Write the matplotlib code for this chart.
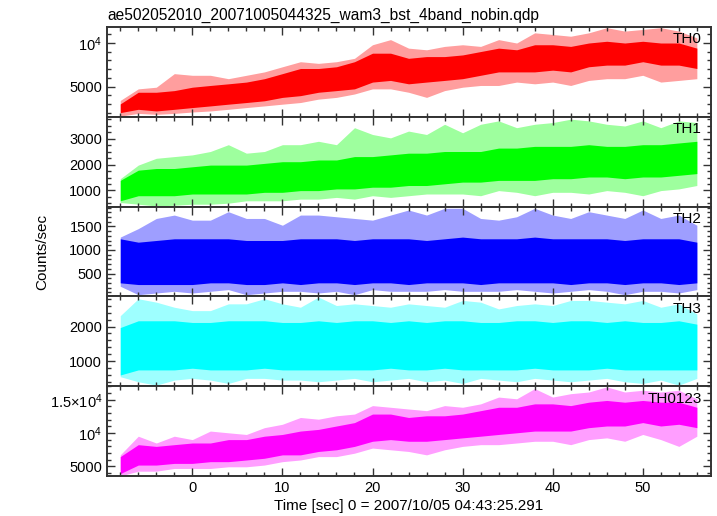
import numpy as np
import matplotlib
matplotlib.use('Agg')
import matplotlib.pyplot as plt
from matplotlib.ticker import MultipleLocator, FuncFormatter

plt.rcParams['font.family'] = ['Liberation Sans', 'DejaVu Sans']
plt.rcParams['mathtext.fontset'] = 'custom'
plt.rcParams['mathtext.rm'] = 'Liberation Sans'
plt.rcParams['mathtext.it'] = 'Liberation Sans'

# time of each reading (sec)
t = [-8, -6, -4, -2, 0, 2, 4, 6, 8, 10, 12, 14, 16, 18, 20, 22, 24, 26, 28, 30,
     32, 34, 36, 38, 40, 42, 44, 46, 48, 50, 52, 54, 56]

# TH0: spike top, dense band top, dense band bottom, spike bottom
th0_hi = [3400, 4730, 4920, 6480, 6290, 6290, 5900, 6290, 6680, 7270, 7850, 7660, 7850, 8240, 9800, 10390, 9410,
          9220, 9610, 9800, 9610, 10390, 10000, 11170, 10980, 10780, 11170, 11760, 11370, 11560, 11760, 11370, 10590]
th0_chi = [3000, 4340, 4340, 4530, 4920, 5120, 5310, 5510, 5900, 6480, 7070, 7070, 7270, 7850, 8830, 8830, 8240,
           8440, 8440, 8630, 9020, 9410, 9220, 9800, 9800, 9610, 10000, 10200, 10000, 10200, 10000, 10000, 9410]
th0_clo = [2000, 2380, 2190, 2380, 2580, 2770, 2970, 3160, 3360, 3750, 3950, 4340, 4530, 4730, 5510, 5700, 5310,
           5510, 5700, 5900, 6290, 6680, 6680, 6680, 6880, 6680, 7270, 7460, 7460, 7850, 7460, 7460, 7070]
th0_lo = [1600, 1910, 1800, 1910, 2070, 2190, 2380, 2580, 2770, 2970, 3160, 3550, 3750, 4140, 4730, 4730, 4340,
          3750, 4530, 4920, 5120, 5120, 5510, 5310, 5510, 5120, 5700, 5900, 5900, 6290, 5510, 5700, 5900]

th1_hi = [1454, 1978, 2240, 2306, 2371, 2502, 2764, 2437, 2502, 2764, 2764, 2895, 2764, 3419, 3157, 3026, 3288,
          3157, 3550, 3223, 3550, 3681, 3419, 3550, 3616, 3747, 3681, 3550, 3485, 3681, 3419, 3681, 3616]
th1_chi = [1389, 1782, 1847, 1847, 1913, 1978, 1978, 1978, 2044, 2109, 2109, 2175, 2175, 2306, 2306, 2371, 2437,
           2437, 2502, 2502, 2502, 2633, 2633, 2699, 2699, 2699, 2764, 2699, 2699, 2764, 2764, 2830, 2895]
th1_clo = [603, 799, 799, 799, 865, 865, 865, 865, 930, 930, 996, 996, 1061, 1061, 1127, 1127, 1192,
           1192, 1258, 1323, 1323, 1389, 1389, 1389, 1454, 1454, 1520, 1520, 1454, 1520, 1520, 1585, 1651]
th1_lo = [537, 472, 406, 432, 472, 472, 511, 603, 603, 603, 668, 668, 734, 668, 799, 734, 799,
          865, 865, 865, 799, 996, 930, 799, 930, 930, 865, 996, 930, 799, 996, 1061, 1192]

th2_hi = [1274, 1454, 1670, 1742, 1634, 1634, 1814, 1670, 1670, 1526, 1742, 1742, 1706, 1670, 1634, 1742, 1850,
          1742, 1886, 1886, 1670, 1634, 1706, 1886, 1742, 1670, 1814, 1742, 1670, 1850, 1670, 1742, 1526]
th2_chi = [1238, 1166, 1202, 1238, 1238, 1238, 1238, 1202, 1202, 1202, 1238, 1238, 1238, 1202, 1238, 1238, 1238,
           1202, 1238, 1274, 1238, 1238, 1238, 1274, 1238, 1238, 1238, 1238, 1202, 1238, 1238, 1238, 1166]
th2_clo = [302, 266, 266, 266, 266, 302, 302, 266, 266, 302, 266, 302, 302, 266, 302, 302, 266,
           302, 302, 302, 266, 302, 302, 302, 302, 266, 302, 302, 266, 302, 302, 266, 302]
th2_lo = [230, 50, 86, 122, 86, 122, 158, 50, 86, 122, 122, 86, 122, 50, 158, 122, 122,
          122, 158, 122, 122, 122, 158, 122, 86, 122, 158, 122, 50, 122, 122, 86, 158]

th3_hi = [2314, 2804, 2706, 2559, 2461, 2461, 2657, 2657, 2804, 2657, 2559, 2853, 2608, 2657, 2608, 2559, 2657,
          2608, 2559, 2755, 2706, 2510, 2608, 2657, 2608, 2755, 2755, 2706, 2657, 2755, 2559, 2657, 2363]
th3_chi = [1971, 2167, 2167, 2167, 2118, 2118, 2167, 2167, 2167, 2118, 2118, 2167, 2118, 2167, 2167, 2118, 2167,
           2118, 2167, 2167, 2118, 2118, 2167, 2167, 2118, 2167, 2167, 2118, 2167, 2118, 2118, 2167, 2069]
th3_clo = [599, 746, 746, 746, 795, 746, 746, 746, 795, 746, 746, 746, 746, 746, 746, 795, 746,
           746, 795, 746, 746, 746, 746, 795, 746, 746, 746, 795, 746, 746, 746, 746, 746]
th3_lo = [550, 403, 305, 452, 501, 452, 354, 501, 501, 452, 452, 403, 452, 501, 403, 452, 501,
          403, 452, 354, 501, 452, 403, 501, 452, 403, 452, 501, 403, 354, 452, 305, 501]

th0123_hi = [6740, 9540, 8520, 9540, 9030, 10310, 10050, 9800, 10820, 11330, 12350, 12090, 12600, 12860, 14130,
             13880, 13620, 13370, 14130, 13880, 14390, 15410, 15150, 16680, 15410, 15920, 16170, 16940, 16170,
             16430, 16170, 16430, 15150]
th0123_chi = [6480, 8270, 8010, 8270, 8520, 8520, 9030, 9030, 9540, 9800, 10310, 10560, 11070, 11580, 12860,
              12860, 12350, 12600, 12600, 12860, 13370, 13880, 13880, 14390, 14390, 14130, 14640, 14900, 14640,
              14900, 14640, 14640, 13880]
th0123_clo = [3930, 5210, 5210, 5460, 5460, 5720, 5720, 5970, 6230, 6740, 6740, 7250, 7500, 8010, 8780,
              9030, 8780, 8780, 9030, 9290, 9540, 9800, 10050, 10310, 10310, 10310, 10820, 11070, 11070,
              11580, 11070, 11330, 10820]
th0123_lo = [3570, 4290, 4290, 4700, 4700, 4700, 4950, 4950, 5210, 5720, 5970, 6480, 6480, 6990, 7760,
             7500, 7250, 6740, 7500, 8010, 8270, 8270, 8520, 8780, 8780, 8270, 9030, 9290, 8780, 9800, 9030,
             8010, 9540]

names = ['TH0', 'TH1', 'TH2', 'TH3', 'TH0123']
colors = ['#ff0000', '#00ff00', '#0000ff', '#00ffff', '#ff00ff']
bands = [(th0_hi, th0_chi, th0_clo, th0_lo),
         (th1_hi, th1_chi, th1_clo, th1_lo),
         (th2_hi, th2_chi, th2_clo, th2_lo),
         (th3_hi, th3_chi, th3_clo, th3_lo),
         (th0123_hi, th0123_chi, th0123_clo, th0123_lo)]
ylims = [(1520, 11840), (380, 3838), (14, 1922), (275, 2872), (3570, 17040)]
majors = [5000, 1000, 500, 1000, 5000]
minors = [1000, 250, 100, 200, 1000]


def qdp_fmt(v, pos):
    if abs(v - 10000) < 1:
        return r'$10^4$'
    if abs(v - 15000) < 1:
        return r'$1.5{\times}10^4$'
    return '%d' % v


fig = plt.figure(figsize=(7.17, 5.16), dpi=100)
gs = fig.add_gridspec(5, 1, left=107/717, right=711/717, top=1-27/516, bottom=1-476/516, hspace=0)
frame = '#333333'

axes = []
for i in range(5):
    ax = fig.add_subplot(gs[i, 0])
    hi, chi, clo, lo = bands[i]
    # sparse spikes drawn lighter, dense band solid
    ax.fill_between(t, lo, hi, color=colors[i], alpha=0.38, linewidth=0)
    ax.fill_between(t, clo, chi, color=colors[i], linewidth=0)
    ax.set_xlim(-9.47, 57.57)
    ax.set_ylim(*ylims[i])
    ax.xaxis.set_major_locator(MultipleLocator(10))
    ax.xaxis.set_minor_locator(MultipleLocator(2))
    ax.yaxis.set_major_locator(MultipleLocator(majors[i]))
    ax.yaxis.set_minor_locator(MultipleLocator(minors[i]))
    ax.yaxis.set_major_formatter(FuncFormatter(qdp_fmt))
    ax.tick_params(which='both', direction='in', top=True, right=True, color=frame,
                   labelsize=10.5, width=1)
    ax.tick_params(which='major', length=6)
    ax.tick_params(which='minor', length=3)
    for s in ax.spines.values():
        s.set_color(frame)
        s.set_linewidth(1.4)
    if i < 4:
        ax.tick_params(labelbottom=False)
    ax.text(0.985, 0.94, names[i], transform=ax.transAxes, ha='right', va='top', fontsize=11)
    axes.append(ax)

axes[0].set_title('ae502052010_20071005044325_wam3_bst_4band_nobin.qdp', loc='left', fontsize=11.2, pad=5)
axes[-1].set_xlabel('Time [sec] 0 = 2007/10/05 04:43:25.291', fontsize=11, labelpad=3)
fig.text(42/717, 1-252/516, 'Counts/sec', rotation=90, ha='center', va='center', fontsize=11)

plt.savefig('out.png', dpi=100)
